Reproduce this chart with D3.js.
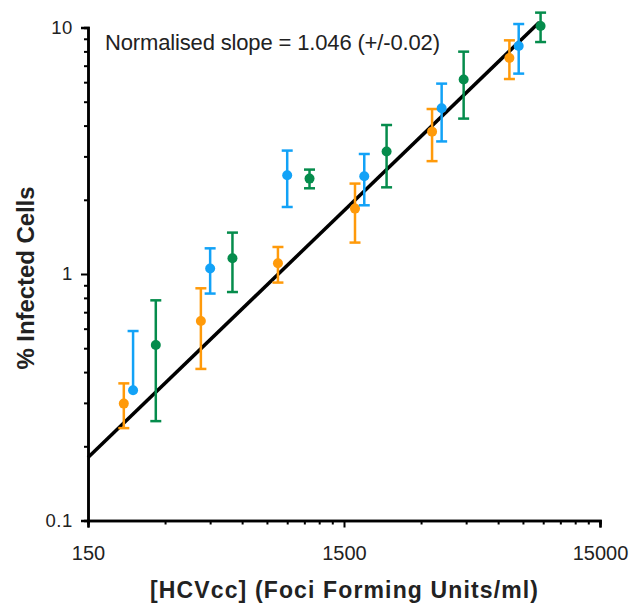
<!DOCTYPE html>
<html>
<head>
<meta charset="utf-8">
<script src="https://cdn.jsdelivr.net/npm/d3@7"></script>
<style>
  body { margin: 0; background: #fff; }
  text { font-family: "Liberation Sans", Arial, Helvetica, sans-serif; }
</style>
</head>
<body>
<div id="chart"></div>
<script>
// dilution series, one per colour
const orangeX = [207, 414, 828, 1656, 3312, 6640];
const orangeY = [0.298, 0.645, 1.105, 1.842, 3.78, 7.52];
const orangeLo = [0.237, 0.412, 0.923, 1.341, 2.87, 6.18];
const orangeHi = [0.360, 0.875, 1.287, 2.327, 4.67, 8.87];

const blueX = [225, 450, 900, 1800, 3610, 7220];
const blueY = [0.3375, 1.052, 2.514, 2.49, 4.70, 8.41];
const blueLo = [0.3375, 0.833, 1.870, 1.900, 3.45, 6.50];
const blueHi = [0.587, 1.271, 3.167, 3.068, 5.92, 10.33];

const greenX = [276, 550, 1100, 2200, 4400, 8790];
const greenY = [0.515, 1.158, 2.438, 3.138, 6.15, 10.14];
const greenLo = [0.253, 0.845, 2.227, 2.247, 4.27, 8.73];
const greenHi = [0.782, 1.472, 2.652, 4.022, 7.98, 11.49];

const fitX = [150, 8690];
const fitY = [0.18, 10.5];

const xTicks = [150, 1500, 15000];
const yTicks = [0.1, 1, 10];

const series = [
  { x: orangeX, y: orangeY, lo: orangeLo, hi: orangeHi, color: '#ff9a0a' },
  { x: blueX, y: blueY, lo: blueLo, hi: blueHi, color: '#12a2f7' },
  { x: greenX, y: greenY, lo: greenLo, hi: greenHi, color: '#058c4c' }
];

const width = 630, height = 605;
const margin = { left: 88, right: 30, top: 27.5, bottom: 84.5 };

const svg = d3.select('#chart')
  .append('svg')
  .attr('width', width)
  .attr('height', height);

const x = d3.scaleLog()
  .domain([150, 15000])
  .range([margin.left, width - margin.right]);

const y = d3.scaleLog()
  .domain([0.1, 10])
  .range([height - margin.bottom, margin.top]);

// minor ticks at k * decade
const xMinor = [];
[150, 1500].forEach(b => { for (let k = 2; k <= 9; k++) xMinor.push(b * k); });
const yMinor = [];
[0.1, 1].forEach(b => { for (let k = 2; k <= 9; k++) yMinor.push(b * k); });

const xAxis = svg.append('g')
  .attr('transform', `translate(0,${height - margin.bottom})`);
xAxis.call(d3.axisBottom(x).tickValues(xMinor).tickSize(4).tickFormat(''));
xAxis.append('g')
  .attr('class', 'major-x')
  .call(d3.axisBottom(x).tickValues(xTicks).tickSize(7).tickPadding(18).tickFormat(d3.format('d')));

const yAxis = svg.append('g')
  .attr('transform', `translate(${margin.left},0)`);
yAxis.call(d3.axisLeft(y).tickValues(yMinor).tickSize(4).tickFormat(''));
yAxis.append('g')
  .attr('class', 'major-y')
  .call(d3.axisLeft(y).tickValues(yTicks).tickSize(7).tickPadding(8).tickFormat(d => String(d)));

svg.selectAll('.domain').attr('stroke', '#000').attr('stroke-width', 2.5);
svg.selectAll('.tick line').attr('stroke', '#000').attr('stroke-width', 2);
svg.selectAll('.tick text')
  .attr('fill', '#222')
  .style('font-family', '"Liberation Sans", Arial, sans-serif');
svg.selectAll('.major-x .tick text').style('font-size', '20px');
svg.selectAll('.major-y .tick text').style('font-size', '18.5px').attr('letter-spacing', '0.6px');

// fitted line
svg.append('line')
  .attr('x1', x(fitX[0])).attr('y1', y(fitY[0]))
  .attr('x2', x(fitX[1])).attr('y2', y(fitY[1]))
  .attr('stroke', '#000')
  .attr('stroke-width', 3.5);

series.forEach(s => {
  const g = svg.append('g');
  const idx = d3.range(s.x.length);
  g.selectAll('line.err')
    .data(idx)
    .enter()
    .append('line')
    .attr('x1', i => x(s.x[i])).attr('x2', i => x(s.x[i]))
    .attr('y1', i => y(s.lo[i])).attr('y2', i => y(s.hi[i]))
    .attr('stroke', s.color).attr('stroke-width', 2.5);
  g.selectAll('line.cap-hi')
    .data(idx)
    .enter()
    .append('line')
    .attr('x1', i => x(s.x[i]) - 5.5).attr('x2', i => x(s.x[i]) + 5.5)
    .attr('y1', i => y(s.hi[i])).attr('y2', i => y(s.hi[i]))
    .attr('stroke', s.color).attr('stroke-width', 2.5);
  g.selectAll('line.cap-lo')
    .data(idx.filter(i => s.lo[i] < s.y[i]))
    .enter()
    .append('line')
    .attr('x1', i => x(s.x[i]) - 5.5).attr('x2', i => x(s.x[i]) + 5.5)
    .attr('y1', i => y(s.lo[i])).attr('y2', i => y(s.lo[i]))
    .attr('stroke', s.color).attr('stroke-width', 2.5);
  g.selectAll('circle')
    .data(idx)
    .enter()
    .append('circle')
    .attr('cx', i => x(s.x[i]))
    .attr('cy', i => y(s.y[i]))
    .attr('r', 5)
    .attr('fill', s.color);
});

svg.append('text')
  .attr('x', 105).attr('y', 50)
  .attr('fill', '#222')
  .style('font-size', '22px')
  .attr('textLength', 335)
  .attr('lengthAdjust', 'spacing')
  .text('Normalised slope = 1.046 (+/-0.02)');

svg.append('text')
  .attr('x', 344).attr('y', 598)
  .attr('text-anchor', 'middle')
  .attr('fill', '#222')
  .style('font-size', '23px')
  .style('font-weight', 'bold')
  .attr('textLength', 388)
  .attr('lengthAdjust', 'spacing')
  .text('[HCVcc] (Foci Forming Units/ml)');

svg.append('text')
  .attr('transform', 'translate(34,278) rotate(-90)')
  .attr('text-anchor', 'middle')
  .attr('fill', '#222')
  .style('font-size', '24px')
  .style('font-weight', 'bold')
  .attr('textLength', 183)
  .attr('lengthAdjust', 'spacing')
  .text('% Infected Cells');
</script>
</body>
</html>
